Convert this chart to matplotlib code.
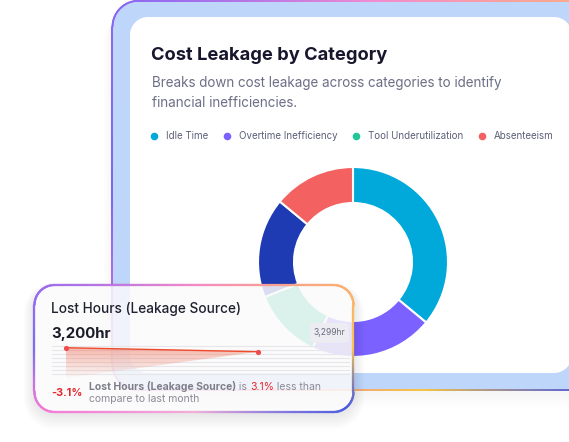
import numpy as np
import matplotlib.pyplot as plt
from matplotlib.patches import Polygon, FancyBboxPatch
from matplotlib.collections import LineCollection
from matplotlib.colors import to_rgb

plt.rcParams['font.family'] = ['Inter', 'DejaVu Sans']

W, H = 569, 442

# donut data (share of cost leakage, %)
categories = ['Idle Time', 'Overtime Inefficiency', 'Tool Underutilization', 'Other', 'Absenteeism']
shares = [36, 21, 12, 17, 14]
colors = ['#00a9da', '#7b61ff', '#1fc79b', '#1e3bb4', '#f46161']
legend_items = ['Idle Time', 'Overtime Inefficiency', 'Tool Underutilization', 'Absenteeism']

# lost hours sparkline (last month -> this month)
periods = ['Last month', 'This month']
lost_hours = [3299, 3200]
change_pct = -3.1


def rrect(x0, y0, x1, y1, r, n=24):
    pts = []
    for cx, cy, a0 in [(x0 + r, y0 + r, 180), (x1 - r, y0 + r, 270),
                       (x1 - r, y1 - r, 0), (x0 + r, y1 - r, 90)]:
        a = np.radians(np.linspace(a0, a0 + 90, n))
        pts.append(np.column_stack([cx + r * np.cos(a), cy + r * np.sin(a)]))
    return np.vstack(pts)


def grad_border(ax, pts, stops, lw, zorder):
    closed = np.vstack([pts, pts[:1]])
    d = np.r_[0, np.cumsum(np.hypot(*np.diff(closed, axis=0).T))]
    t = np.linspace(0, d[-1], int(d[-1]))
    p = np.column_stack([np.interp(t, d, closed[:, 0]), np.interp(t, d, closed[:, 1])])
    segs = np.stack([p[:-1], p[1:]], axis=1)
    mids = segs.mean(axis=1)
    x0, x1 = pts[:, 0].min(), pts[:, 0].max()
    y0, y1 = pts[:, 1].min(), pts[:, 1].max()
    ang = np.degrees(np.arctan2(-(mids[:, 1] - (y0 + y1) / 2) / (y1 - y0),
                                (mids[:, 0] - (x0 + x1) / 2) / (x1 - x0)))
    sa = [s[0] for s in stops]
    rgb = np.array([to_rgb(s[1]) for s in stops])
    cols = np.column_stack([np.interp(ang, sa, rgb[:, k]) for k in range(3)])
    ax.add_collection(LineCollection(segs, colors=cols, linewidths=lw, zorder=zorder,
                                     capstyle='round'))


fig = plt.figure(figsize=(W / 100, H / 100), dpi=100, facecolor='white')

# ---- background: frame + white card
ax = fig.add_axes([0, 0, 1, 1], zorder=0)
ax.set_xlim(0, W)
ax.set_ylim(H, 0)
ax.axis('off')

# soft shadow below the frame
for k in range(10):
    ax.add_patch(Polygon(rrect(112 - k, 4 + k * 0.8, 640 + k, 394 + k * 1.4, 26 + k),
                         color='#2a2a55', alpha=0.005, lw=0, zorder=0))
frame = rrect(112.5, 0.8, 640, 390, 26)
ax.add_patch(Polygon(frame, color='#bed6f9', lw=0, zorder=1))
grad_border(ax, frame, [(-180, '#7d62f4'), (-150, '#c06ae6'), (-120, '#f07ad0'),
                        (-80, '#f8c440'), (-50, '#4a5ae8'), (0, '#f9b06a'),
                        (45, '#fbb07a'), (90, '#f48ad0'), (135, '#8a66f2'),
                        (180, '#7d62f4')], 1.3, 2)
ax.add_patch(Polygon(rrect(130, 17, 572, 373, 18), color='white', lw=0, zorder=3))

ax.text(151, 60, 'Cost Leakage by Category', fontsize=13.2, fontweight='bold',
        color='#18162c', va='baseline', zorder=4)
ax.text(152, 87.5, 'Breaks down cost leakage across categories to identify',
        fontsize=9.7, color='#6c6f86', va='baseline', zorder=4)
ax.text(152, 107, 'financial inefficiencies.', fontsize=9.7, color='#6c6f86',
        va='baseline', zorder=4)

# legend (chained by text width)
renderer = fig.canvas.get_renderer()
lx = 154
for lab in legend_items:
    col = colors[categories.index(lab)]
    ax.scatter([lx], [136], s=30, color=col, lw=0, zorder=4)
    t = ax.text(lx + 12, 136, lab, fontsize=7, color='#5d5f78', va='center', zorder=4)
    bb = t.get_window_extent(renderer)
    lx = bb.x1 + 18.5

# ---- donut
axp = fig.add_axes([(353 - 95) / W, (H - 262 - 95) / H, 190 / W, 190 / H], zorder=1)
axp.pie(shares, colors=colors, startangle=90, counterclock=False, radius=1,
        wedgeprops=dict(width=36 / 95, edgecolor='white', linewidth=1.5))
axp.set_xlim(-1, 1)
axp.set_ylim(-1, 1)
axp.set_aspect('equal')
axp.axis('off')

# ---- foreground card
axf = fig.add_axes([0, 0, 1, 1], zorder=2)
axf.set_xlim(0, W)
axf.set_ylim(H, 0)
axf.axis('off')

for k in range(12):
    axf.add_patch(Polygon(rrect(34.5 - k, 287 - k + k * 0.6, 353.5 + k, 414 + k * 1.4, 20 + k),
                          color='#2a2a55', alpha=0.007, lw=0, zorder=0))
card = rrect(34.5, 285, 353.5, 412, 20)
axf.add_patch(Polygon(card, color='white', alpha=0.84, lw=0, zorder=1))
grad_border(axf, card, [(-180, '#7c6cf2'), (-135, '#f47ad8'), (-90, '#f2b0d8'),
                        (-45, '#4a5ce2'), (0, '#fcc84a'), (45, '#fbb070'),
                        (90, '#f588c8'), (135, '#9a6cf0'), (180, '#7c6cf2')], 1.6, 2)

axf.text(51, 313.3, 'Lost Hours (Leakage Source)', fontsize=9.8, fontweight='medium',
         color='#1f2030', va='baseline', zorder=3)
axf.text(51, 338.3, f'{lost_hours[-1]:,}hr', fontsize=10.8, fontweight='bold',
         color='#1a1a28', va='baseline', zorder=3)

axf.add_patch(FancyBboxPatch((310, 323), 39, 20, boxstyle='round,pad=0,rounding_size=4',
                             color='#ececf2', lw=0, zorder=3))
axf.text(329.5, 332.5, f'{lost_hours[0]:,}hr', fontsize=6.2, color='#6b6d80',
         ha='center', va='center', zorder=4)

red = '#e5262b'
gray = '#8a8b96'
fs = 7.5
axf.text(51, 395.5, f'{change_pct:.1f}%', fontsize=7.8, fontweight='bold',
         color=red, va='baseline', zorder=3)
t1 = axf.text(89, 390.5, 'Lost Hours (Leakage Source)', fontsize=fs, fontweight='bold',
              color='#7e7f8a', va='baseline', zorder=3)
t2 = axf.annotate(' is ', xy=(1, 0), xycoords=t1, fontsize=fs, color=gray,
                  va='bottom', zorder=3)
t3 = axf.annotate(f'{abs(change_pct):.1f}%', xy=(1, 0), xycoords=t2, fontsize=fs,
                  color=red, va='bottom', zorder=3)
axf.annotate(' less than', xy=(1, 0), xycoords=t3, fontsize=fs, color=gray,
             va='bottom', zorder=3)
axf.text(89, 402.5, 'compare to last month', fontsize=fs, color=gray,
         va='baseline', zorder=3)

# ---- sparkline
axm = fig.add_axes([52 / W, (H - 378) / H, 298 / W, 34 / H], zorder=3)
axm.patch.set_visible(False)
xs = np.arange(len(lost_hours))
ymin, ymax = 2549, 3391
poly = axm.fill_between(xs, lost_hours, [ymin, lost_hours[-1]], color='none')
grad = np.zeros((100, 1, 4))
grad[..., :3] = to_rgb('#f05a3c')
grad[:, 0, 3] = np.linspace(0.02, 0.42, 100)
im = axm.imshow(grad, extent=[xs[0], xs[-1], ymin, max(lost_hours)], origin='lower',
                aspect='auto', zorder=1)
im.set_clip_path(poly.get_paths()[0], transform=axm.transData)
axm.plot(xs, lost_hours, color='#ee4a2c', lw=1.0, zorder=2)
axm.scatter(xs, lost_hours, s=14, color='#f04a4e', lw=0, zorder=3)
axm.set_xlim(-14 / 192, 1 + 92 / 192)
axm.set_ylim(ymin, ymax)
axm.set_yticks(np.arange(2650, 3351, 100))
axm.grid(axis='y', color='#e6e6eb', lw=0.8)
axm.set_axisbelow(True)
axm.tick_params(length=0, labelleft=False, labelbottom=False)
axm.set_xticks([])
for s in axm.spines.values():
    s.set_visible(False)

fig.savefig('out.png', dpi=100)
